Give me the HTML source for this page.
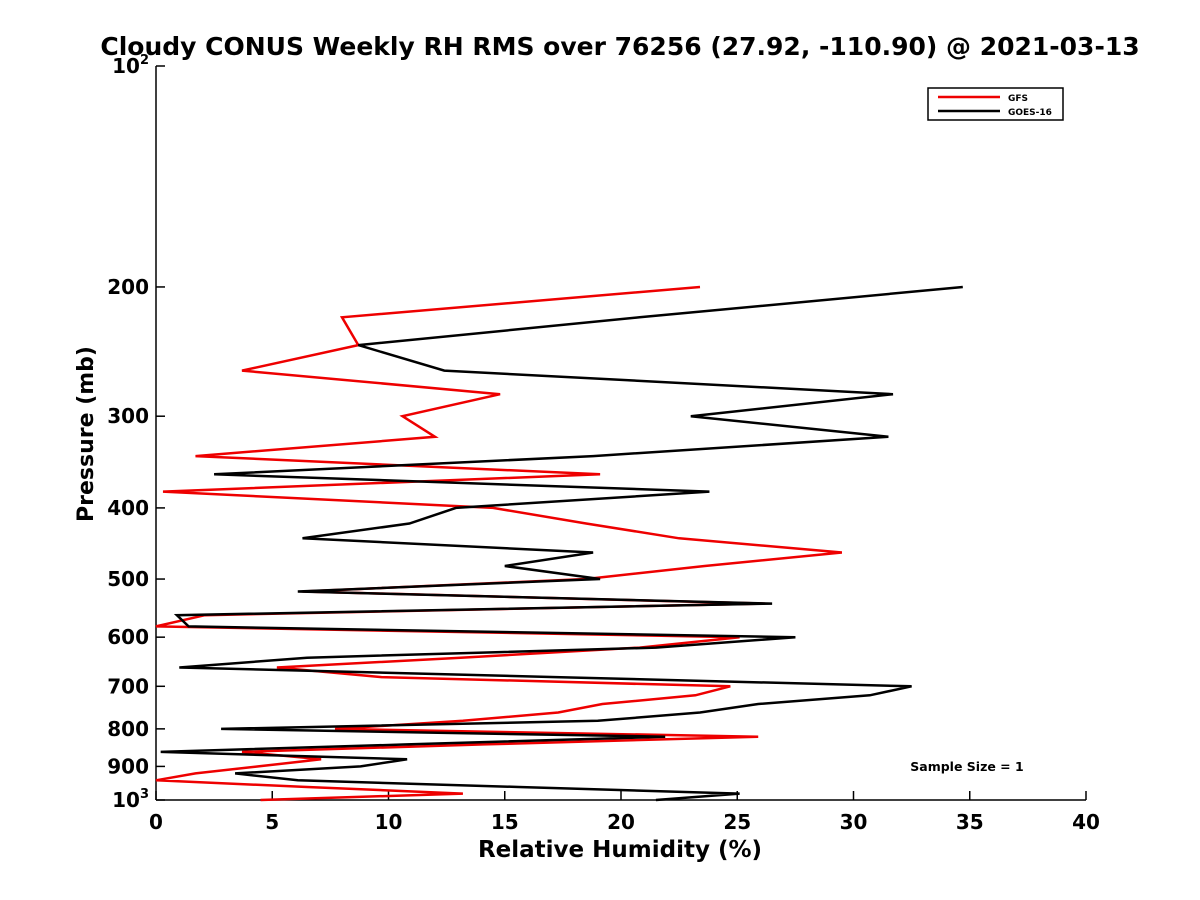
<!DOCTYPE html>
<html><head><meta charset="utf-8"><style>
body{margin:0;background:#fff}
svg{display:block;font-family:"DejaVu Sans","Liberation Sans",sans-serif}
</style></head><body>
<svg id="chart" width="1200" height="900" viewBox="0 0 1200 900">
<rect width="1200" height="900" fill="#fff"/>
<text x="620" y="55" text-anchor="middle" font-size="25" font-weight="bold">Cloudy CONUS Weekly RH RMS over 76256 (27.92, -110.90) @ 2021-03-13</text>
<g id="axes"></g>
<g id="series"></g>
<g>
<rect x="928" y="88" width="135" height="32" fill="#fff" stroke="#000" stroke-width="1.5"/>
<line x1="938" y1="97" x2="1000" y2="97" stroke="#e00" stroke-width="2.5"/>
<text x="1008" y="101" font-size="9" font-weight="bold">GFS</text>
<line x1="938" y1="111" x2="1000" y2="111" stroke="#000" stroke-width="2.5"/>
<text x="1008" y="115" font-size="9" font-weight="bold">GOES-16</text>
</g>
<text x="967" y="771" text-anchor="middle" font-size="12.5" font-weight="bold">Sample Size = 1</text>
<text x="620" y="857" text-anchor="middle" font-size="23" font-weight="bold">Relative Humidity (%)</text>
<text transform="translate(93,434) rotate(-90)" text-anchor="middle" font-size="22" font-weight="bold">Pressure (mb)</text>
</svg>
<script>
const levels=[200,220,240,260,280,300,320,340,360,380,400,420,440,460,480,500,520,540,560,580,600,620,640,660,680,700,720,740,760,780,800,820,840,860,880,900,920,940,960,980,1000];
const gfsValues=[23.4,8.0,8.7,3.7,14.8,10.6,12.0,1.7,19.1,0.3,14.5,18.5,22.5,29.5,23.6,18.5,6.3,26.2,2.1,0,25.1,20.8,13.1,5.2,9.7,24.7,23.2,19.2,17.3,13.2,7.7,25.9,14.1,3.7,7.1,4.4,1.7,0,6.5,13.2,4.5];
const goesValues=[34.7,20.8,8.7,12.4,31.7,23.0,31.5,18.8,2.5,23.8,12.9,10.9,6.3,18.8,15.0,19.1,6.1,26.5,0.9,1.4,27.5,21.5,6.5,1.0,17.2,32.5,30.7,25.9,23.4,19.0,2.8,21.9,10.8,0.2,10.8,8.8,3.4,6.1,15.6,25.1,21.5];
const xTicks=[0,5,10,15,20,25,30,35,40];
const yTicks=[200,300,400,500,600,700,800,900];
const NS='http://www.w3.org/2000/svg';
const X0=156,X1=1086,Y0=66,Y1=800;
function xs(v){return X0+(v-0)/40*(X1-X0);}
function ys(p){return Y0+Math.log10(p/100)*(Y1-Y0);}
function mk(tag,attrs,parent){const e=document.createElementNS(NS,tag);for(const k in attrs)e.setAttribute(k,attrs[k]);parent.appendChild(e);return e;}
const ax=document.getElementById('axes');
let l=mk('line',{x1:X0,y1:Y0,x2:X0,y2:Y1,stroke:'#000','stroke-width':1.5},ax);


l=mk('line',{x1:X0,y1:Y1,x2:X1,y2:Y1,stroke:'#000','stroke-width':1.5},ax);


xTicks.forEach(v=>{
 const t=mk('line',{x1:xs(v),y1:Y1,x2:xs(v),y2:Y1-9,stroke:'#000','stroke-width':1.5},ax);
 
 
 const tx=mk('text',{x:xs(v),y:Y1+29,'text-anchor':'middle','font-size':20,'font-weight':'bold'},ax);
 tx.textContent=v;
 
 
});
[100].concat(yTicks,[1000]).forEach(p=>{
 const t=mk('line',{x1:X0,y1:ys(p),x2:X0+9,y2:ys(p),stroke:'#000','stroke-width':1.5},ax);
 
 
 const tx=mk('text',{x:X0-7,y:ys(p)+7,'text-anchor':'end','font-size':20,'font-weight':'bold'},ax);
 if(p===100||p===1000){tx.textContent='10';const s=mk('tspan',{dy:-9,'font-size':13},tx);s.textContent=p===100?'2':'3';}
 else tx.textContent=p;
 
 
});
const sg=document.getElementById('series');
function series(vals,color,name){
 const pts=vals.map((v,i)=>xs(v).toFixed(1)+','+ys(levels[i]).toFixed(1)).join(' ');
 const pl=mk('polyline',{points:pts,fill:'none',stroke:color,'stroke-width':2.5,'stroke-linejoin':'miter'},sg);
 
 
}
series(gfsValues,'#e00','gfs-line');
series(goesValues,'#000','goes16-line');
</script>
</body></html>
